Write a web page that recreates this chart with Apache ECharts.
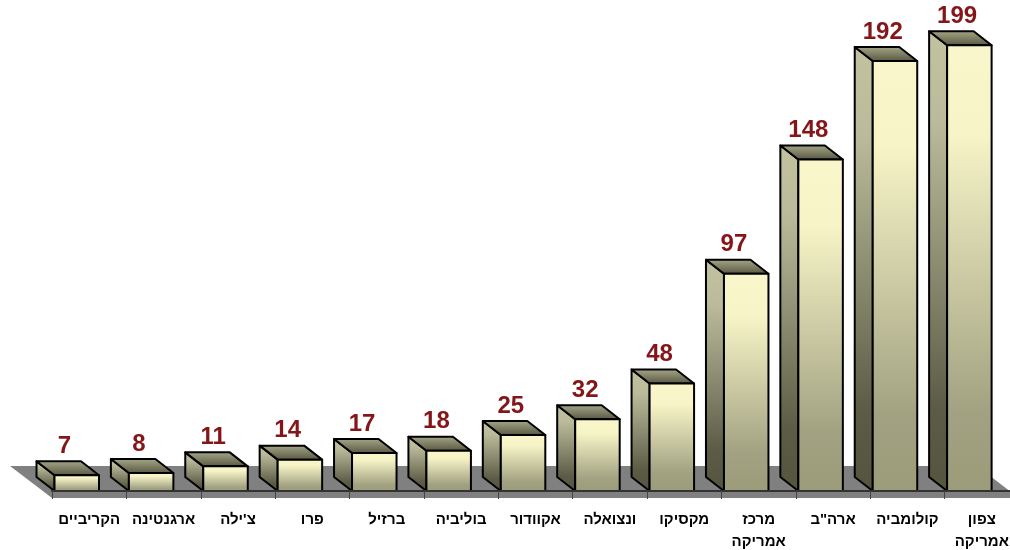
<!DOCTYPE html>
<html><head><meta charset="utf-8"><style>html,body{margin:0;padding:0;background:#fff}#c{width:1010px;height:550px}</style>
<script src="https://cdn.jsdelivr.net/npm/echarts@6/dist/echarts.min.js"></script></head><body><div id="c"></div>
<script>
const categories=['הקריביים','ארגנטינה',"צ'ילה",'פרו','ברזיל','בוליביה','אקוודור','ונצואלה','מקסיקו','מרכז\nאמריקה','ארה"ב','קולומביה','צפון\nאמריקה'];
const values=[7,8,11,14,17,18,25,32,48,97,148,192,199];
const DX=-18,DY=-14,BW=44.5,OFF=2.5;
const lg=(stops)=>({type:'linear',x:0,y:0,x2:0,y2:1,colorStops:stops});
const frontStops=[{offset:0,color:'#F9F6CB'},{offset:.2,color:'#F7F4C7'},{offset:.82,color:'#A2A282'},{offset:1,color:'#9C9C7B'}];
const sideStops=[{offset:0,color:'#C2C2A0'},{offset:.2,color:'#BBBB9B'},{offset:.82,color:'#5C5C46'},{offset:1,color:'#55553F'}];
const topStops=[{offset:0,color:'#A9A98B'},{offset:1,color:'#55553F'}];
const chart=echarts.init(document.getElementById('c'));
chart.setOption({
 animation:false,
 grid:{left:52,top:43,width:967,height:448,outerBoundsMode:'none'},
 xAxis:{type:'category',data:categories,offset:7,z:5,
  axisLine:{show:true,lineStyle:{color:'#333',width:2}},
  axisTick:{show:true,inside:false,alignWithLabel:false,length:8,lineStyle:{color:'#444',width:1}},
  axisLabel:{interval:0,color:'#000',fontFamily:'Liberation Sans',fontWeight:'bold',fontSize:15,lineHeight:22,margin:11}},
 yAxis:{type:'value',min:0,max:200,show:false},
 series:[
 {type:'custom',silent:true,z:1,clip:false,data:[0],
  renderItem(p,api){
   const b=api.coord([0,0])[1]; const band=api.size([1,0])[0]; const l=api.coord([0,0])[0]-band/2;
   const f=b+7, x0=l, x1=l+band*13;
   return {type:'polygon',shape:{points:[[x0,f],[x1,f],[x1-42,f-32],[x0-42,f-32]]},style:{fill:'#808080'}};
  }},
 {type:'custom',z:2,clip:false,data:values.map((v,i)=>[i,v]),
  renderItem(p,api){
   const i=api.value(0),v=api.value(1);
   const [cx,t]=api.coord([i,v]); const b=api.coord([i,0])[1]; const band=api.size([1,0])[0];
   const x=cx-band/2+OFF, r=x+BW;
   const stroke={stroke:'#000',lineWidth:2,lineJoin:'round'};
   return {type:'group',children:[
    {type:'polygon',shape:{points:[[x+DX,t+DY],[x,t],[x,b],[x+DX,b+DY]]},style:{fill:lg(sideStops),...stroke}},
    {type:'polygon',shape:{points:[[x+DX,t+DY],[r+DX,t+DY],[r,t],[x,t]]},style:{fill:lg(topStops),...stroke}},
    {type:'rect',shape:{x:x,y:t,width:BW,height:b-t},style:{fill:lg(frontStops),...stroke}},
    {type:'text',style:{text:String(v),x:x+10,y:t+DY-3,align:'center',verticalAlign:'bottom',fill:'#84161A',font:'bold 24px "Liberation Sans"'}}
   ]};
  }}
 ]
});
</script></body></html>
